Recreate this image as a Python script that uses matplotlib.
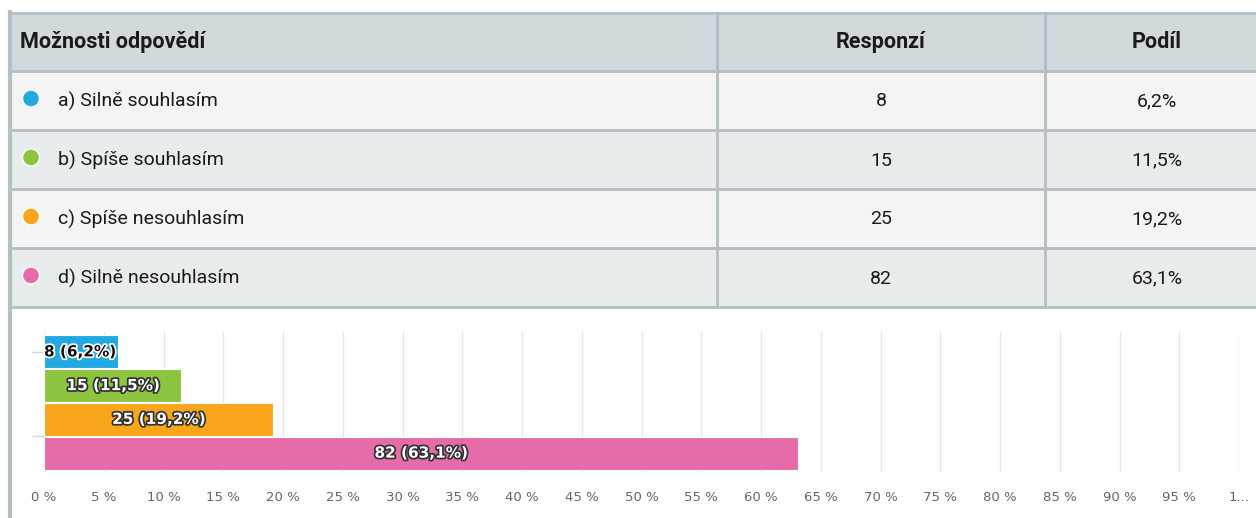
import matplotlib.pyplot as plt
import matplotlib.patheffects as pe
from matplotlib.patches import Rectangle, Circle

# Data
options = ["a) Silně souhlasím", "b) Spíše souhlasím",
           "c) Spíše nesouhlasím", "d) Silně nesouhlasím"]
responses = [8, 15, 25, 82]
shares = [6.2, 11.5, 19.2, 63.1]
colors = ["#22a9e1", "#8dc541", "#faa61a", "#e66ca9"]
headers = ["Možnosti odpovědí", "Responzí", "Podíl"]
tick_values = list(range(0, 101, 5))
tick_labels = ["%d %%" % v for v in range(0, 100, 5)] + ["1..."]

W, H = 1256, 518
fig = plt.figure(figsize=(W / 100, H / 100), dpi=100)

# Background axes in pixel coordinates for the table
bg = fig.add_axes([0, 0, 1, 1])
bg.set_xlim(0, W)
bg.set_ylim(H, 0)
bg.axis("off")

table_font = ["Roboto", "DejaVu Sans"]
border = "#b3bfc3"
row_top = [13, 71, 130, 189, 248, 307]
col_x = [10, 717, 1045, W + 5]
row_bg = ["#d1d9dd", "#f4f4f4", "#e9ecec", "#f4f4f4", "#e9ecec"]

for i in range(5):
    bg.add_patch(Rectangle((col_x[0], row_top[i]), W, row_top[i + 1] - row_top[i],
                           facecolor=row_bg[i], edgecolor="none", zorder=1))
# chart area
bg.add_patch(Rectangle((col_x[0], 307), W, H - 307, facecolor="white",
                       edgecolor="none", zorder=1))

# grid lines of the table
for y in row_top:
    bg.plot([col_x[0], W], [y, y], color=border, lw=2, zorder=3)
for x in col_x[1:3]:
    bg.plot([x, x], [13, 307], color=border, lw=2, zorder=3)
bg.plot([col_x[0], col_x[0]], [12, H], color=border, lw=3, zorder=3)

# header
hy = (row_top[0] + row_top[1]) / 2
bg.text(20, hy, headers[0], fontsize=15.5, fontweight="bold", family=table_font,
        va="center", ha="left", color="#1a1a1a", zorder=4)
bg.text((col_x[1] + col_x[2]) / 2, hy, headers[1], fontsize=15.5,
        fontweight="bold", family=table_font, va="center", ha="center",
        color="#1a1a1a", zorder=4)
bg.text(1157, hy, headers[2], fontsize=15.5, fontweight="bold",
        family=table_font, va="center", ha="center", color="#1a1a1a", zorder=4)

# rows
for i, (opt, n, s, c) in enumerate(zip(options, responses, shares, colors)):
    y = (row_top[i + 1] + row_top[i + 2]) / 2
    bg.add_patch(Circle((31, y - 2), 8.5, facecolor=c, edgecolor="white",
                        lw=1, zorder=4))
    bg.text(58, y + 1, opt, fontsize=14, family=table_font, va="center",
            ha="left", color="#1a1a1a", zorder=4)
    bg.text(881, y + 1, str(n), fontsize=14, family=table_font, va="center",
            ha="center", color="#1a1a1a", zorder=4)
    bg.text(1157, y + 1, ("%.1f%%" % s).replace(".", ","), fontsize=14,
            family=table_font, va="center", ha="center", color="#1a1a1a",
            zorder=4)

# Bar chart axes
x0, x1 = 44, 1239
y0, y1 = 332, 472
ax = fig.add_axes([x0 / W, 1 - y1 / H, (x1 - x0) / W, (y1 - y0) / H])
ax.patch.set_alpha(0)
ypos = list(range(len(shares)))
ax.barh(ypos, shares, height=0.98, color=colors, edgecolor="white", lw=0.8,
        zorder=2)
ax.set_xlim(0, 100)
ax.set_ylim(3.5 + 2 / 33.75, -0.5 - 3 / 33.75)
ax.set_xticks(tick_values)
ax.set_xticklabels(tick_labels, fontsize=9.5, color="#666666")
ax.tick_params(axis="x", length=0, pad=14)
ax.set_yticks([0, 2.5])
ax.set_yticklabels([])
ax.tick_params(axis="y", length=9, color="#ccd6eb", width=1)
ax.grid(axis="x", color="#e6e6e6", lw=1, zorder=0)
for sp in ax.spines.values():
    sp.set_visible(False)

for i, (n, s) in enumerate(zip(responses, shares)):
    label = "%d (%s%%)" % (n, ("%.1f" % s).replace(".", ","))
    if s < 8:
        ax.text(0, i, label, fontsize=11, fontweight="bold", color="#111111",
                ha="left", va="center", zorder=5,
                path_effects=[pe.withStroke(linewidth=2.5, foreground="white")])
    else:
        ax.text(s / 2, i, label, fontsize=11, fontweight="bold", color="white",
                ha="center", va="center", zorder=5,
                path_effects=[pe.withStroke(linewidth=2.5, foreground="#333333")])

fig.savefig("out.png", dpi=100)
